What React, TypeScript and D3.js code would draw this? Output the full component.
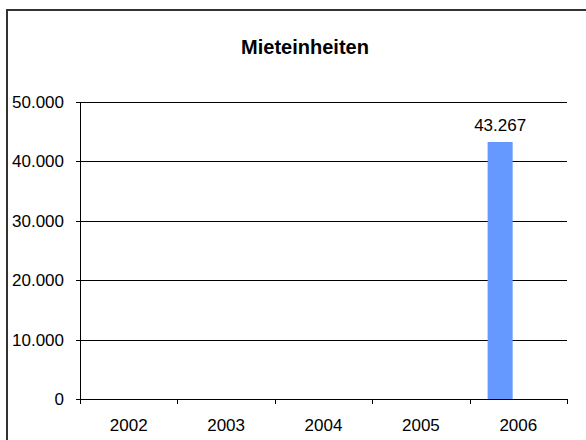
import React from "react";
import * as d3 from "d3";

const years = ["2002", "2003", "2004", "2005", "2006"];
const values: (number | null)[] = [null, null, null, null, 43267];
const yTicks = [0, 10000, 20000, 30000, 40000, 50000];
const title = "Mieteinheiten";

const W = 586;
const H = 440;
const FONT = "Arial, 'Liberation Sans', Helvetica, sans-serif";

const fmt = (v: number) => d3.format(",")(v).replace(/,/g, ".");

export default function App() {
  const plotLeft = 80;
  const plotRight = 567;
  const plotTop = 102;
  const plotBottom = 399;

  const x = d3.scaleBand<string>().domain(years).range([plotLeft, plotRight]).padding(0);
  const y = d3.scaleLinear().domain([0, 50000]).range([plotBottom, plotTop]);
  const bw = x.bandwidth();
  const barOffset = bw * 0.185;
  const barW = bw * 0.257;

  return (
    <div style={{ position: "fixed", left: 0, top: 0, width: W, height: H, background: "#fff" }}>
      <svg width={W} height={H} style={{ display: "block" }} fontFamily={FONT}>
        <rect x={0} y={0} width={W} height={H} fill="#fff" />
        <rect x={7} y={10} width={W + 40} height={H + 40} fill="none" stroke="#333" strokeWidth={2} />
        <text x={305} y={54} textAnchor="middle" fontSize={20} fontWeight="bold" fill="#000">
          {title}
        </text>
        {yTicks.map((t) => (
          <g key={t}>
            <line
              x1={plotLeft - 4}
              x2={t === 0 ? plotLeft : plotRight}
              y1={Math.round(y(t)) + 0.5}
              y2={Math.round(y(t)) + 0.5}
              stroke="#000"
              strokeWidth={1}
            />
            <text x={64} y={y(t) + 6} textAnchor="end" fontSize={17} fill="#000">
              {fmt(t)}
            </text>
          </g>
        ))}
        {years.map((yr, i) => {
          const v = values[i];
          if (v == null) return null;
          const bx = (x(yr) as number) + barOffset;
          return (
            <g key={yr}>
              <rect x={bx} y={y(v)} width={barW} height={plotBottom - y(v)} fill="#6699FF" />
              <text x={bx + barW / 2} y={y(v) - 11} textAnchor="middle" fontSize={17} fill="#000">
                {fmt(v)}
              </text>
            </g>
          );
        })}
        <line x1={plotLeft + 0.5} x2={plotLeft + 0.5} y1={plotTop} y2={plotBottom + 5} stroke="#000" strokeWidth={1} />
        <line x1={plotLeft} x2={plotRight + 0.5} y1={plotBottom + 0.5} y2={plotBottom + 0.5} stroke="#000" strokeWidth={1} />
        {years.map((yr) => (
          <line
            key={"t" + yr}
            x1={Math.round((x(yr) as number) + bw) + 0.5}
            x2={Math.round((x(yr) as number) + bw) + 0.5}
            y1={plotBottom}
            y2={plotBottom + 5}
            stroke="#000"
            strokeWidth={1}
          />
        ))}
        {years.map((yr) => (
          <text
            key={"l" + yr}
            x={(x(yr) as number) + bw / 2}
            y={plotBottom + 32}
            textAnchor="middle"
            fontSize={17}
            fill="#000"
          >
            {yr}
          </text>
        ))}
      </svg>
    </div>
  );
}
